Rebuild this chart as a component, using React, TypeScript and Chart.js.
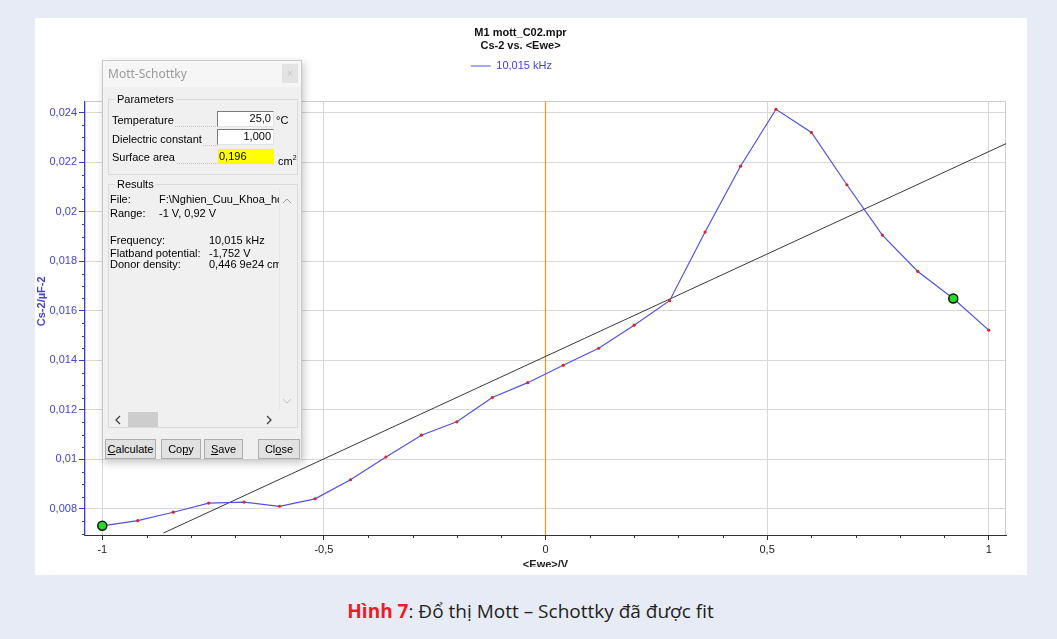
import React, { useEffect, useRef } from "react";
import { Chart, registerables } from "chart.js";

Chart.register(...registerables);

// ---------- data ----------
const eweV = [-1, -0.92, -0.84, -0.76, -0.68, -0.6, -0.52, -0.44, -0.36, -0.28, -0.2, -0.12, -0.04, 0.04, 0.12, 0.2, 0.28, 0.36, 0.44, 0.52, 0.6, 0.68, 0.76, 0.84, 0.92, 1.0];
const csMinus2 = [0.00732, 0.00753, 0.00787, 0.00824, 0.00828, 0.00811, 0.00841, 0.00918, 0.0101, 0.01098, 0.01152, 0.0125, 0.0131, 0.0138, 0.01449, 0.01542, 0.01641, 0.01918, 0.02184, 0.02414, 0.0232, 0.02109, 0.01906, 0.01759, 0.0165, 0.01522];
const rangeEwe = [-1, 0.92];
const rangeCs = [0.00732, 0.0165];
const fitEwe = [-0.862, 1.039];
const fitCs = [0.00703, 0.02275];
const markerEwe = [0, 0];
const markerCs = [0.00695, 0.02446];
const xMajorTicks = [-1, -0.5, 0, 0.5, 1];
const yMajorTicks = [0.008, 0.01, 0.012, 0.014, 0.016, 0.018, 0.02, 0.022, 0.024];
const titleLines = ["M1 mott_C02.mpr", "Cs-2 vs. <Ewe>"];
const seriesLabel = "10,015 kHz";
const xTitle = "<Ewe>/V";
const yTitle = "Cs-2/µF-2";

const X_MIN = -1.039;
const X_MAX = 1.039;
const Y_MIN = 0.00695;
const Y_MAX = 0.02446;

const FONT = "'Liberation Sans', Arial, sans-serif";
const BLUE = "#4343d4";
const AXIS_BLUE = "#3a3acc";
const LINE_BLUE = "#5252e2";

const fmt = (v: number) => String(parseFloat(Number(v).toFixed(4))).replace(".", ",");
const pts = (xs: number[], ys: number[]) => xs.map((x, i) => ({ x, y: ys[i] }));
const NBSP = "\u00a0";

const decorPlugin = {
  id: "decor",
  beforeDatasetsDraw(chart: any) {
    const { ctx, chartArea: a, scales } = chart;
    const x = scales.x;
    const y = scales.y;
    ctx.save();
    // frame (top & right)
    ctx.strokeStyle = "#cdcdcd";
    ctx.lineWidth = 1;
    ctx.beginPath();
    ctx.moveTo(a.left, Math.round(a.top) + 0.5);
    ctx.lineTo(Math.round(a.right) - 0.5, Math.round(a.top) + 0.5);
    ctx.lineTo(Math.round(a.right) - 0.5, a.bottom);
    ctx.stroke();
    // minor ticks on y
    ctx.strokeStyle = AXIS_BLUE;
    ctx.beginPath();
    for (let k = 14; k <= 48; k++) {
      if (k % 4 === 0) continue;
      const v = k * 0.0005;
      if (v < Y_MIN || v > Y_MAX) continue;
      const py = Math.round(y.getPixelForValue(v)) + 0.5;
      ctx.moveTo(a.left - 3, py);
      ctx.lineTo(a.left, py);
    }
    ctx.stroke();
    // minor ticks on x
    ctx.strokeStyle = "#333";
    ctx.beginPath();
    for (let k = -10; k <= 10; k++) {
      if (k % 5 === 0) continue;
      const px = Math.round(x.getPixelForValue(k / 10)) + 0.5;
      ctx.moveTo(px, a.bottom);
      ctx.lineTo(px, a.bottom + 3);
    }
    ctx.stroke();
    ctx.restore();
  },
};

function Dialog() {
  const txt = (left: number, yc: number, content: any, extra: any = {}) => (
    <div
      style={{
        position: "absolute",
        left,
        top: yc - 7,
        height: 14,
        lineHeight: "14px",
        whiteSpace: "nowrap",
        ...extra,
      }}
    >
      {content}
    </div>
  );
  const sunken = (left: number, top: number, width: number, height: number, content: string) => (
    <div
      style={{
        position: "absolute",
        left,
        top,
        width,
        height,
        boxSizing: "border-box",
        background: "#fff",
        borderTop: "1px solid #7a7a7a",
        borderLeft: "1px solid #7a7a7a",
        borderRight: "1px solid #e3e3e3",
        borderBottom: "1px solid #e3e3e3",
        textAlign: "right",
        lineHeight: "13px",
        paddingRight: 2,
      }}
    >
      {content}
    </div>
  );
  const button = (left: number, width: number, content: any) => (
    <div
      style={{
        position: "absolute",
        left,
        top: 378,
        width,
        height: 20,
        boxSizing: "border-box",
        background: "#e1e1e1",
        border: "1px solid #adadad",
        textAlign: "center",
        lineHeight: "18px",
      }}
    >
      {content}
    </div>
  );
  const group = (top: number, height: number, label: string) => (
    <>
      <div
        style={{
          position: "absolute",
          left: 5,
          top,
          width: 190,
          height,
          boxSizing: "border-box",
          border: "1px solid #dadada",
        }}
      />
      <div
        style={{
          position: "absolute",
          left: 12,
          top: top - 7,
          height: 14,
          lineHeight: "14px",
          padding: "0 2px",
          background: "#f0f0f0",
        }}
      >
        {label}
      </div>
    </>
  );
  const leader = (left: number, width: number, yc: number) => (
    <div
      style={{
        position: "absolute",
        left,
        top: yc + 6,
        width,
        height: 0,
        borderBottom: "1px dotted #c8c8c8",
      }}
    />
  );
  return (
    <div
      style={{
        position: "absolute",
        left: 102,
        top: 60,
        width: 200,
        height: 400,
        background: "#f0f0f0",
        border: "1px solid #c9c9c9",
        boxSizing: "border-box",
        boxShadow: "2px 3px 8px rgba(0,0,0,0.22)",
        fontFamily: FONT,
        fontSize: 11,
        color: "#000",
      }}
    >
      <div style={{ position: "absolute", left: 0, top: 0, width: 198, height: 26, background: "#f6f6f6" }} />
      {txt(5, 13, "Mott-Schottky", { fontFamily: "'Noto Sans', sans-serif", fontSize: 12, color: "#9a9a9a" })}
      <div
        style={{
          position: "absolute",
          left: 179,
          top: 3,
          width: 16,
          height: 19,
          background: "#e3e3e3",
          color: "#c4c4c4",
          fontSize: 10,
          textAlign: "center",
          lineHeight: "19px",
        }}
      >
        ×
      </div>

      {group(38, 76, "Parameters")}
      {leader(10, 105, 59)}
      {leader(10, 105, 78)}
      {leader(10, 105, 96)}
      {txt(9, 59, "Temperature", { background: "#f0f0f0", paddingRight: 1 })}
      {sunken(114, 50, 57, 16, "25,0")}
      {txt(173, 59, "°C")}
      {txt(9, 78, "Dielectric constant", { background: "#f0f0f0", paddingRight: 1 })}
      {sunken(114, 68, 57, 16, "1,000")}
      {txt(9, 96, "Surface area", { background: "#f0f0f0", paddingRight: 1 })}
      <div
        style={{
          position: "absolute",
          left: 115,
          top: 88,
          width: 56,
          height: 15,
          background: "#ffff00",
          lineHeight: "15px",
          paddingLeft: 1,
          boxSizing: "border-box",
        }}
      >
        0,196
      </div>
      {txt(175, 97, <span>cm<sup style={{ fontSize: 7 }}>2</sup></span>)}

      {group(123, 244, "Results")}
      <div style={{ position: "absolute", left: 6, top: 128, width: 170, height: 221, overflow: "hidden" }}>
        {txt(1, 10, "File:")}
        {txt(50, 10, "F:\\Nghien_Cuu_Khoa_hoc\\Mott")}
        {txt(1, 24, "Range:")}
        {txt(50, 24, "-1 V, 0,92 V")}
        {txt(1, 51, "Frequency:")}
        {txt(100, 51, "10,015 kHz")}
        {txt(1, 64, "Flatband potential:")}
        {txt(100, 64, "-1,752 V")}
        {txt(1, 75, "Donor density:")}
        {txt(100, 75, "0,446 9e24 cm-3")}
      </div>
      <div style={{ position: "absolute", left: 176, top: 128, width: 1, height: 221, background: "#e6e6e6" }} />
      <svg style={{ position: "absolute", left: 179, top: 136 }} width="10" height="8">
        <polyline points="1,6 5,2 9,6" fill="none" stroke="#a0a0a0" strokeWidth="1" />
      </svg>
      <svg style={{ position: "absolute", left: 179, top: 336 }} width="10" height="8">
        <polyline points="1,2 5,6 9,2" fill="none" stroke="#c0c0c0" strokeWidth="1" />
      </svg>
      <svg style={{ position: "absolute", left: 11, top: 354 }} width="8" height="10">
        <polyline points="6,1 2,5 6,9" fill="none" stroke="#404040" strokeWidth="1.3" />
      </svg>
      <div style={{ position: "absolute", left: 25, top: 351, width: 30, height: 15, background: "#cdcdcd" }} />
      <svg style={{ position: "absolute", left: 162, top: 354 }} width="8" height="10">
        <polyline points="2,1 6,5 2,9" fill="none" stroke="#404040" strokeWidth="1.3" />
      </svg>

      {button(2, 51, <span><u>C</u>alculate</span>)}
      {button(58, 40, <span>Co<u>p</u>y</span>)}
      {button(101, 39, <span><u>S</u>ave</span>)}
      {button(155, 42, <span>Cl<u>o</u>se</span>)}
    </div>
  );
}

export default function App() {
  const canvasRef = useRef<HTMLCanvasElement | null>(null);

  useEffect(() => {
    const canvas = canvasRef.current;
    if (!canvas) return;
    const font11 = { family: FONT, size: 11 };
    const font11b = { family: FONT, size: 11, weight: "bold" as const };
    const defaultLabels = (Chart.defaults as any).plugins.legend.labels.generateLabels;
    const chart = new Chart(canvas, {
      type: "line",
      data: {
        datasets: [
          {
            label: "Fit range",
            data: pts(rangeEwe, rangeCs),
            showLine: false,
            pointRadius: 4.5,
            pointBackgroundColor: "#22dd22",
            pointBorderColor: "#111",
            pointBorderWidth: 1.5,
            borderColor: "#111",
          },
          {
            label: seriesLabel,
            data: pts(eweV, csMinus2),
            borderColor: LINE_BLUE,
            backgroundColor: LINE_BLUE,
            borderWidth: 1.2,
            pointRadius: 1.6,
            pointBackgroundColor: "#e02424",
            pointBorderWidth: 0,
            tension: 0,
          },
          {
            label: "Linear fit",
            data: pts(fitEwe, fitCs),
            borderColor: "#3a3a3a",
            borderWidth: 1,
            pointRadius: 0,
          },
          {
            label: "Ewe = 0",
            data: pts(markerEwe, markerCs),
            borderColor: "#f7931e",
            borderWidth: 1.2,
            pointRadius: 0,
          },
        ],
      },
      options: {
        animation: false,
        responsive: false,
        devicePixelRatio: 1,
        events: [],
        layout: { padding: { left: 0, right: 21, top: 0, bottom: 0 } },
        plugins: {
          tooltip: { enabled: false },
          title: {
            display: true,
            text: titleLines,
            color: "#111",
            font: font11b,
            padding: { top: 8.4, bottom: 0 },
          },
          legend: {
            display: true,
            position: "top",
            labels: {
              usePointStyle: true,
              pointStyle: "line",
              pointStyleWidth: 20,
              color: BLUE,
              font: font11,
              padding: 7.7,
              generateLabels: (c: any) =>
                defaultLabels(c)
                  .filter((l: any) => l.text === seriesLabel)
                  .map((l: any) => ({
                    ...l,
                    text: l.text + NBSP.repeat(6),
                    lineWidth: 1.2,
                    strokeStyle: LINE_BLUE,
                    fillStyle: LINE_BLUE,
                  })),
            },
          },
        },
        scales: {
          x: {
            type: "linear",
            position: "bottom",
            min: X_MIN,
            max: X_MAX,
            afterBuildTicks: (s: any) => {
              s.ticks = xMajorTicks.map((value) => ({ value }));
            },
            afterFit: (s: any) => {
              s.height = 37;
            },
            grid: { color: "#d8d8d8", tickLength: 5, tickColor: "#333" },
            border: { color: "#333", width: 1 },
            ticks: {
              callback: (v: any) => fmt(v),
              color: "#222",
              font: font11,
              padding: 3,
              maxRotation: 0,
              autoSkip: false,
            },
            title: { display: true, text: xTitle, color: "#222", font: font11b, padding: 0 },
          },
          xTop: {
            type: "linear",
            position: "top",
            axis: "x",
            min: X_MIN,
            max: X_MAX,
            grid: { display: false },
            border: { display: false },
            ticks: { display: false },
            afterFit: (s: any) => {
              s.height = 19.8;
            },
          },
          y: {
            type: "linear",
            min: Y_MIN,
            max: Y_MAX,
            afterBuildTicks: (s: any) => {
              s.ticks = yMajorTicks.map((value) => ({ value }));
            },
            afterFit: (s: any) => {
              s.width = 50;
            },
            grid: { color: "#d8d8d8", tickLength: 6, tickColor: AXIS_BLUE },
            border: { color: AXIS_BLUE, width: 1.3 },
            ticks: { callback: (v: any) => fmt(v), color: BLUE, font: font11, padding: 2, autoSkip: false },
            title: { display: true, text: NBSP.repeat(11) + yTitle, color: BLUE, font: font11b, padding: 0 },
          },
        },
      } as any,
      plugins: [decorPlugin],
    });
    return () => chart.destroy();
  }, []);

  return (
    <div
      style={{
        position: "absolute",
        left: 0,
        top: 0,
        width: 1057,
        height: 639,
        background: "#e7ebf6",
        overflow: "hidden",
      }}
    >
      <div style={{ position: "absolute", left: 35, top: 18, width: 992, height: 557, background: "#fff" }}>
        <div style={{ position: "absolute", left: 0, top: 0, width: 992, height: 549, overflow: "hidden" }}>
          <canvas ref={canvasRef} width={992} height={554} style={{ display: "block", width: 992, height: 554 }} />
        </div>
      </div>
      <Dialog />
      <div
        style={{
          position: "absolute",
          left: 2,
          top: 598,
          width: 1057,
          height: 26,
          lineHeight: "26px",
          textAlign: "center",
          fontFamily: "'Open Sans', sans-serif",
          fontSize: 19,
          color: "#231f20",
          whiteSpace: "nowrap",
        }}
      >
        <span style={{ color: "#ed1c24", fontWeight: 700 }}>Hình 7</span>: Đổ thị Mott – Schottky đã được fit
      </div>
    </div>
  );
}
